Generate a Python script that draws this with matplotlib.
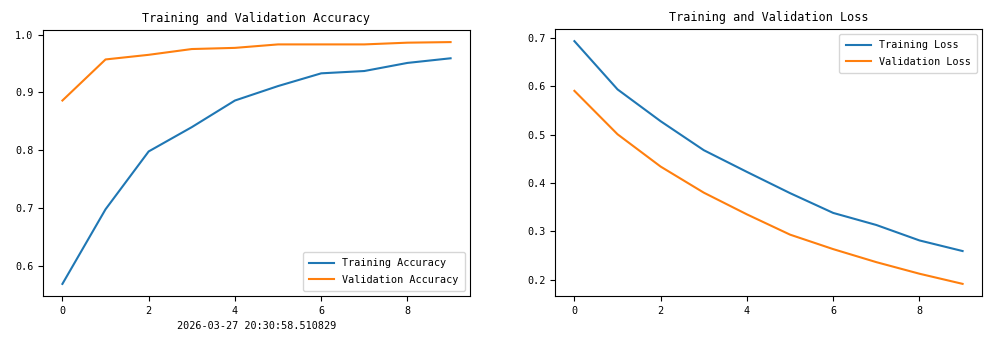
import matplotlib
matplotlib.use("Agg")
import matplotlib.pyplot as plt

plt.rcParams['font.family'] = ['DejaVu Sans Mono']

epochs = list(range(10))
train_acc = [0.569, 0.698, 0.798, 0.840, 0.886, 0.911, 0.933, 0.937, 0.951, 0.959]
val_acc = [0.886, 0.957, 0.965, 0.975, 0.977, 0.983, 0.983, 0.983, 0.986, 0.987]
train_loss = [0.694, 0.594, 0.528, 0.468, 0.423, 0.379, 0.338, 0.313, 0.281, 0.259]
val_loss = [0.591, 0.501, 0.434, 0.380, 0.335, 0.293, 0.263, 0.236, 0.212, 0.191]
stamp = "2026-03-27 20:30:58.510829"

leg_kw = dict(fontsize=7.3, handlelength=2.5, borderpad=0.6, labelspacing=0.65)

fig = plt.figure(figsize=(9.93, 3.42), dpi=100)

ax1 = fig.add_axes([43 / 993, 1 - 296 / 342, 427 / 993, 266 / 342])
ax1.plot(epochs, train_acc, label='Training Accuracy')
ax1.plot(epochs, val_acc, label='Validation Accuracy')
ax1.set_title('Training and Validation Accuracy', fontsize=8.5)
ax1.set_xlabel(stamp, fontsize=7.3, labelpad=4)
ax1.tick_params(labelsize=7.3)
ax1.legend(loc='lower right', **leg_kw)

ax2 = fig.add_axes([555 / 993, 1 - 296 / 342, 427 / 993, 267 / 342])
ax2.plot(epochs, train_loss, label='Training Loss')
ax2.plot(epochs, val_loss, label='Validation Loss')
ax2.set_title('Training and Validation Loss', fontsize=8.5)
ax2.tick_params(labelsize=7.3)
ax2.legend(loc='upper right', **leg_kw)

fig.savefig('out.png', dpi=100)
